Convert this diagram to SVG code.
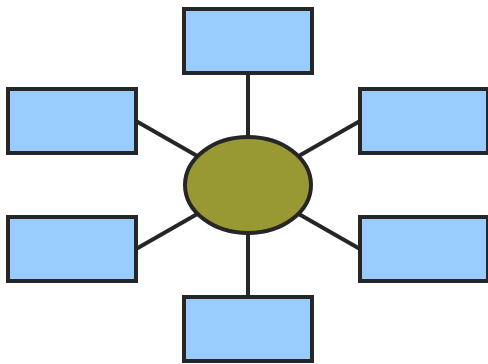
<svg xmlns="http://www.w3.org/2000/svg" width="488" height="364" viewBox="0 0 488 364">
<style>
.box{fill:#99ccff;stroke:#262626;stroke-width:4}
.hub{fill:#999933;stroke:#262626;stroke-width:4}
.edge{stroke:#262626;stroke-width:4;fill:none}
</style>
<rect width="488" height="364" fill="#ffffff"/>
<g id="connectors">
<line class="edge" x1="248" y1="73" x2="248" y2="185"/>
<line class="edge" x1="248" y1="297" x2="248" y2="185"/>
<line class="edge" x1="136" y1="121" x2="248" y2="185"/>
<line class="edge" x1="136" y1="249" x2="248" y2="185"/>
<line class="edge" x1="360" y1="121" x2="248" y2="185"/>
<line class="edge" x1="360" y1="249" x2="248" y2="185"/>
</g>
<g id="hub"><ellipse class="hub" cx="248" cy="185" rx="63" ry="48"/></g>
<g id="top"><rect class="box" x="184" y="9" width="128" height="64"/></g>
<g id="left-top"><rect class="box" x="8" y="89" width="128" height="64"/></g>
<g id="right-top"><rect class="box" x="360" y="89" width="128" height="64"/></g>
<g id="left-bottom"><rect class="box" x="8" y="217" width="128" height="64"/></g>
<g id="right-bottom"><rect class="box" x="360" y="217" width="128" height="64"/></g>
<g id="bottom"><rect class="box" x="184" y="297" width="128" height="64"/></g>
</svg>
